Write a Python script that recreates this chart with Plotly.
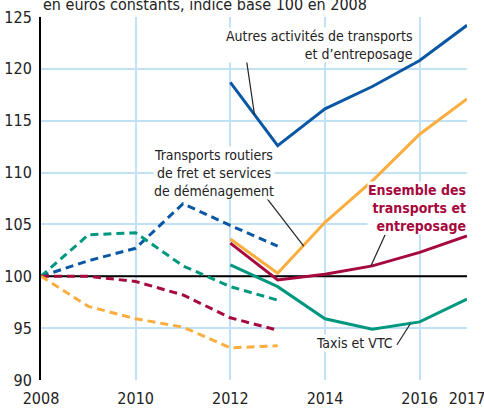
import plotly.graph_objects as go

years_a = [2008, 2009, 2010, 2011, 2012, 2013]
years_b = [2012, 2013, 2014, 2015, 2016, 2017]

# Dashed series (2008-2013)
autres_a = [100, 101.5, 102.7, 107.0, 104.9, 102.9]
taxis_a = [100, 104.0, 104.2, 101.0, 99.0, 97.7]
ensemble_a = [100, 100.0, 99.5, 98.2, 96.0, 94.8]
routiers_a = [100, 97.1, 95.9, 95.1, 93.1, 93.3]

# Solid series (2012-2017)
autres_b = [118.7, 112.6, 116.15, 118.3, 120.8, 124.2]
routiers_b = [103.6, 100.3, 105.2, 109.2, 113.7, 117.1]
ensemble_b = [103.2, 99.65, 100.2, 101.0, 102.3, 103.9]
taxis_b = [101.1, 99.0, 95.9, 94.9, 95.6, 97.8]

x_ticks = [2008, 2010, 2012, 2014, 2016, 2017]
y_ticks = [90, 95, 100, 105, 110, 115, 120, 125]

BLUE = "#0a57a4"
TEAL = "#00977f"
CRIMSON = "#a6093d"
ORANGE = "#fbad3e"
GRID = "#c3e1f5"
FONT = "DejaVu Sans Condensed, Liberation Sans Narrow, sans-serif"

fig = go.Figure()

def add(x, y, color, dashed):
    fig.add_trace(go.Scatter(
        x=x, y=y, mode="lines", cliponaxis=False, showlegend=False,
        line=dict(color=color, width=3, dash="8px,5px" if dashed else "solid"),
        hoverinfo="skip"))

add(years_a, autres_a, BLUE, True)
add(years_a, taxis_a, TEAL, True)
add(years_a, ensemble_a, CRIMSON, True)
add(years_a, routiers_a, ORANGE, True)
add(years_b, taxis_b, TEAL, False)
add(years_b, autres_b, BLUE, False)
add(years_b, routiers_b, ORANGE, False)
add(years_b, ensemble_b, CRIMSON, False)

# Reference line at 100
fig.add_shape(type="line", xref="x", yref="y", x0=2008, x1=2017, y0=100, y1=100,
              line=dict(color="black", width=2), layer="between")

# Leader lines
leaders = [
    ((2012.31, 121.8), (2012.51, 115.6)),
    ((2012.74, 107.7), (2013.55, 102.9)),
    ((2015.27, 104.0), (2014.97, 101.0)),
    ((2015.52, 93.4), (2015.80, 95.4)),
]
for (x0, y0), (x1, y1) in leaders:
    fig.add_shape(type="line", xref="x", yref="y", x0=x0, y0=y0, x1=x1, y1=y1,
                  line=dict(color="#222222", width=1.2), layer="above")

ann_font = dict(family=FONT, size=14, color="#222222")
fig.add_annotation(x=2015.87, y=122.3, xref="x", yref="y", xanchor="right", yanchor="middle",
                   text="Autres activités de transports<br>et d’entreposage", showarrow=False,
                   align="right", font=ann_font, bgcolor="white", borderpad=0)
fig.add_annotation(x=2011.65, y=110.0, xref="x", yref="y", xanchor="center", yanchor="middle",
                   text="Transports routiers<br>de fret et services<br>de déménagement", showarrow=False,
                   align="center", font=ann_font, bgcolor="white", borderpad=0)
fig.add_annotation(x=2017, y=106.6, xref="x", yref="y", xanchor="right", yanchor="middle",
                   text="<b>Ensemble des<br>transports et<br>entreposage</b>", showarrow=False,
                   align="right", font=dict(family=FONT, size=14, color=CRIMSON),
                   bgcolor="white", borderpad=0)
fig.add_annotation(x=2014.62, y=93.6, xref="x", yref="y", xanchor="center", yanchor="middle",
                   text="Taxis et VTC", showarrow=False, font=ann_font,
                   bgcolor="white", borderpad=0)

fig.add_annotation(x=0, y=1.0, xref="paper", yref="paper", xanchor="left", yanchor="bottom",
                   yshift=1, text="en euros constants, indice base 100 en 2008", showarrow=False,
                   font=dict(family=FONT, size=16, color="#222222"))

fig.update_xaxes(range=[2008, 2017], tickvals=x_ticks, ticktext=[str(v) for v in x_ticks],
                 showgrid=True, gridcolor=GRID, gridwidth=1.5, zeroline=False,
                 showline=False, ticks="", tickfont=dict(family=FONT, size=16, color="#222222"),
                 ticklabelstandoff=7, ticklabeloverflow="allow", automargin=False,
                 fixedrange=True)
fig.update_yaxes(range=[90, 125], tickvals=y_ticks, ticktext=[str(v) for v in y_ticks],
                 showgrid=True, gridcolor=GRID, gridwidth=1.5, zeroline=False,
                 showline=True, linecolor="black", linewidth=2, ticks="", ticklabelstandoff=4,
                 tickfont=dict(family=FONT, size=16, color="#222222"),
                 ticklabeloverflow="allow", automargin=False, fixedrange=True)

fig.update_layout(width=484, height=410, margin=dict(l=41, r=17, t=17, b=30),
                  plot_bgcolor="white", paper_bgcolor="white",
                  font=dict(family=FONT))

fig.write_html("out.html", config={"displayModeBar": False},
               post_script="document.body.style.margin='0';")
